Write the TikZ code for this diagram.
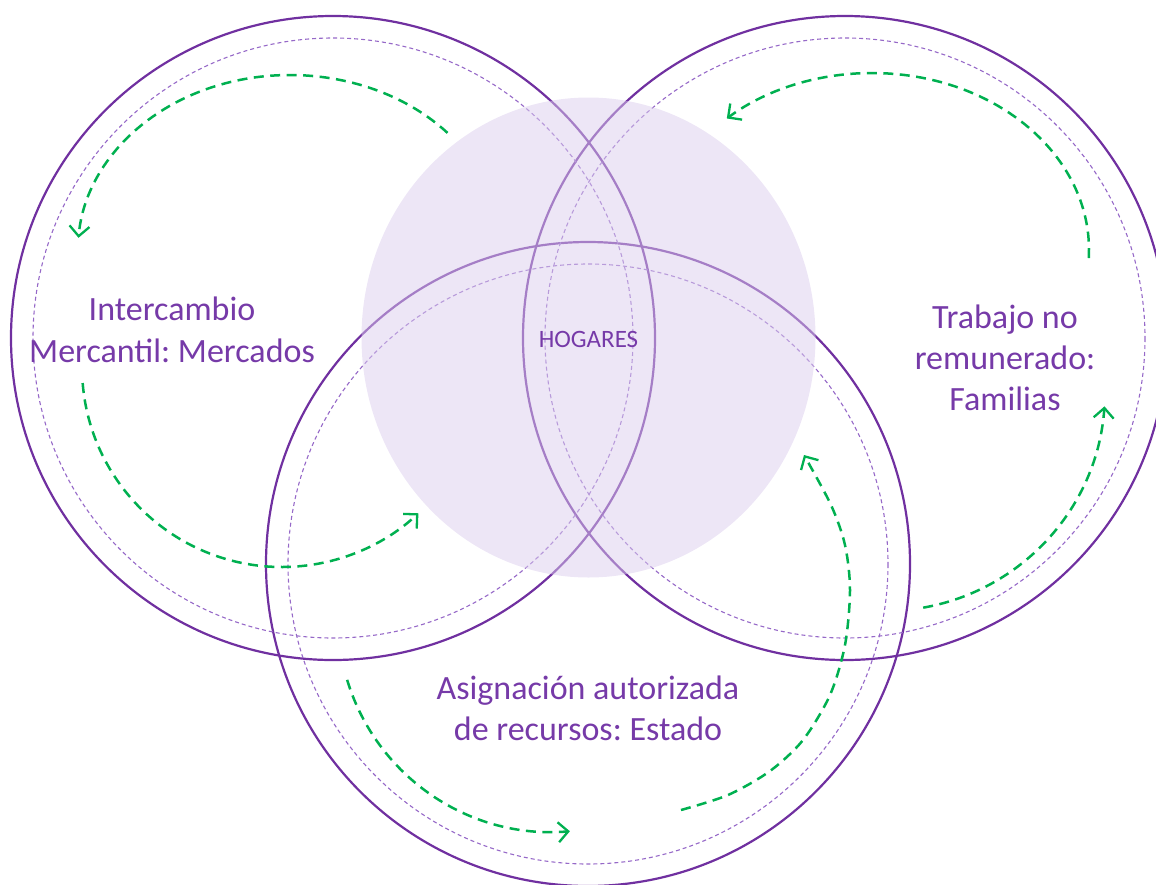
\documentclass[tikz,border=0pt]{standalone}
\usepackage{fontspec}
\setmainfont{Carlito}
\frenchspacing
\usetikzlibrary{arrows.meta}
\definecolor{vpurple}{RGB}{112,48,160}
\definecolor{vtext}{RGB}{118,58,168}
\definecolor{vdash}{RGB}{150,105,200}
\definecolor{vfill}{RGB}{219,205,237}
\definecolor{vgreen}{RGB}{0,176,80}
\begin{document}
\begin{tikzpicture}[x=1pt,y=-1pt,
  ring/.style={draw=vpurple,line width=2.2pt},
  innerring/.style={draw=vdash,line width=1.1pt,dash pattern=on 4pt off 3pt},
  flow/.style={draw=vgreen,line width=2.5pt,dash pattern=on 10pt off 6.5pt,
    -{Straight Barb[length=10pt,width=20pt,line width=2.3pt]}},
  txt/.style={text=vtext,align=center,font=\fontsize{34}{42}\selectfont}]
\useasboundingbox (0,0) rectangle (1156,884);
\clip (0,0) rectangle (1156,884);
% centres
\coordinate (cL) at (333,338);
\coordinate (cR) at (845,338);
\coordinate (cB) at (588,564);
\coordinate (cH) at (588.5,337.5);
% big circles
\draw[ring] (cL) circle[radius=322];
\draw[ring] (cR) circle[radius=322];
\draw[ring] (cB) circle[radius=322];
\draw[innerring] (cL) circle[radius=300];
\draw[innerring] (cR) circle[radius=300];
\draw[innerring] (cB) circle[radius=300];
% households
\fill[vfill,opacity=0.5] (cH) ellipse[x radius=227,y radius=240];
\node[text=vtext,font=\fontsize{25}{30}\selectfont] (tH) at (588.5,339) {HOGARES};
% labels
\node[txt] (tM) at (172,330) {Intercambio\\Mercantil: Mercados};
\node[txt,font=\fontsize{34}{41}\selectfont] (tF) at (1005,357.5) {Trabajo no\\remunerado:\\Familias};
\node[txt,font=\fontsize{34}{41}\selectfont] (tE) at (588,708) {Asignación autorizada\\de recursos: Estado};
% flow arrows
\coordinate (aA) at (290,250);
\coordinate (aB) at (282,367);
\coordinate (aC) at (872,250);
\coordinate (aD) at (885,391);
\coordinate (aF) at (552,618);
\draw[flow] ([shift={(-42:212 and 175)}]aA) arc[start angle=-42,end angle=-176,x radius=212,y radius=175];
\draw[flow] ([shift={(175.4:200)}]aB) arc[start angle=175.4,end angle=47,radius=200];
\draw[flow] ([shift={(2.6:217 and 177)}]aC) arc[start angle=2.6,end angle=-132,x radius=217,y radius=177];
\draw[flow] ([shift={(80:220)}]aD) arc[start angle=80,end angle=4,radius=220];
\draw[flow] ([shift={(163.2:214)}]aF) arc[start angle=163.2,end angle=85.2,radius=214];
\draw[flow] plot[smooth] coordinates {(681,810) (728,795) (770,771) (803,740) (830,695) (845,645) (850,590) (845,545) (831,505) (804,455)};
\end{tikzpicture}
\end{document}
